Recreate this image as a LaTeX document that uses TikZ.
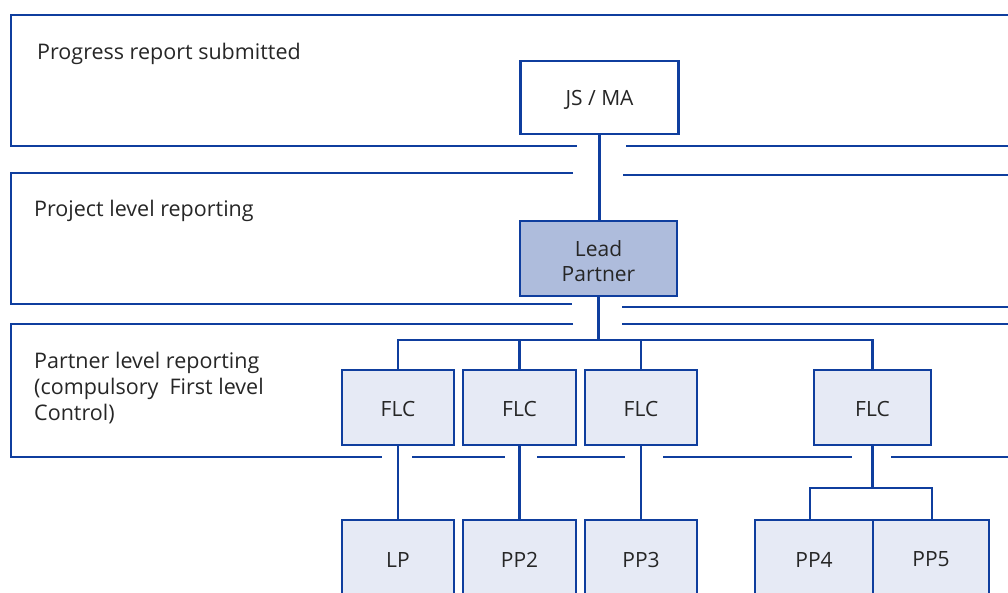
\documentclass[tikz,border=0pt]{standalone}
\usepackage{fontspec}
\setmainfont{Open Sans}
\definecolor{lineblue}{HTML}{0F3E9E}
\definecolor{leadfill}{HTML}{AEBCDC}
\definecolor{boxfill}{HTML}{E6EAF5}
\definecolor{txt}{HTML}{262626}
\newcommand\shiftdn[2]{\raisebox{-#1}[\height][\depth]{#2}}
\begin{document}
\begin{tikzpicture}[x=1pt,y=-1pt,
  band/.style={draw=lineblue,line width=2.5pt},
  conn/.style={draw=lineblue,line width=2.5pt},
  orgbox/.style={draw=lineblue,line width=2.5pt,fill=boxfill,text=txt,inner sep=0pt,align=center,font=\fontsize{21}{25}\selectfont},
  bandlabel/.style={anchor=west,text=txt,inner sep=0pt,align=left,font=\fontsize{21.5}{26}\selectfont}]
\useasboundingbox (0,0) rectangle (1008,592);
\clip (0,0) rectangle (1008,592);
% band 1
\draw[band] (1020,15) -- (11,15) -- (11,146) -- (577,146);
\draw[band] (626,146) -- (1020,146);
% band 2
\draw[band] (573,173) -- (11,173) -- (11,304) -- (572,304);
\draw[band] (623,175) -- (1020,175);
\draw[band] (622,307) -- (1020,307);
% band 3
\draw[band] (573,324) -- (11,324) -- (11,457) -- (382,457);
\draw[band] (622,324) -- (1020,324);
\draw[band] (412,457) -- (505,457);
\draw[band] (537,457) -- (625,457);
\draw[band] (663,457) -- (852,457);
\draw[band] (891,457) -- (1020,457);
% labels
\node[bandlabel] (l1) at (37,54) {Progress report submitted};
\node[bandlabel] (l2) at (34,211) {Project level reporting};
\node[bandlabel] (l3) at (34,388) {Partner level reporting\\(compulsory\ \ First level\\Control)};
% boxes
\node[orgbox,fill=white,minimum width=158pt,minimum height=73pt] (js) at (599.5,97.5) {\shiftdn{2pt}{JS / MA}};
\node[orgbox,fill=leadfill,minimum width=157pt,minimum height=75pt] (lead) at (598.5,258.5) {\shiftdn{5pt}{\begin{tabular}{@{}c@{}}Lead\\Partner\end{tabular}}};
\node[orgbox,minimum width=112pt,minimum height=75pt] (flc1) at (398,407.5) {\shiftdn{1pt}{FLC}};
\node[orgbox,minimum width=113pt,minimum height=75pt] (flc2) at (519.5,407.5) {\shiftdn{1pt}{FLC}};
\node[orgbox,minimum width=112pt,minimum height=75pt] (flc3) at (641,407.5) {\shiftdn{1pt}{FLC}};
\node[orgbox,minimum width=117pt,minimum height=75pt] (flc4) at (872.5,407.5) {\shiftdn{1pt}{FLC}};
\node[orgbox,minimum width=112pt,minimum height=75pt] (lp) at (398,557.5) {\shiftdn{2pt}{LP}};
\node[orgbox,minimum width=113pt,minimum height=75pt] (pp2) at (519.5,557.5) {\shiftdn{2pt}{PP2}};
\node[orgbox,minimum width=112pt,minimum height=75pt] (pp3) at (641,557.5) {\shiftdn{2pt}{PP3}};
\node[orgbox,minimum width=118pt,minimum height=75pt] (pp4) at (814,557.5) {\shiftdn{2pt}{PP4}};
\node[orgbox,minimum width=116pt,minimum height=75pt] (pp5) at (931,557.5) {\shiftdn{2pt}{PP5}};
% connectors
\coordinate (bus) at (598.5,340);
\coordinate (sub) at (872.5,488);
\draw[conn] (js.south) -- (js.south |- lead.north);
\draw[conn] (lead.south) -- (bus);
\draw[conn] (flc1.north) |- (bus) -| (flc4.north);
\draw[conn] (flc2.north) -- (flc2.north |- bus);
\draw[conn] (flc3.north) -- (flc3.north |- bus);
\draw[conn] (flc1.south) -- (lp.north);
\draw[conn] (flc2.south) -- (pp2.north);
\draw[conn] (flc3.south) -- (pp3.north);
\draw[conn] (flc4.south) -- (sub);
\draw[conn] (810,520) |- (sub) -| (932,520);
\end{tikzpicture}
\end{document}
